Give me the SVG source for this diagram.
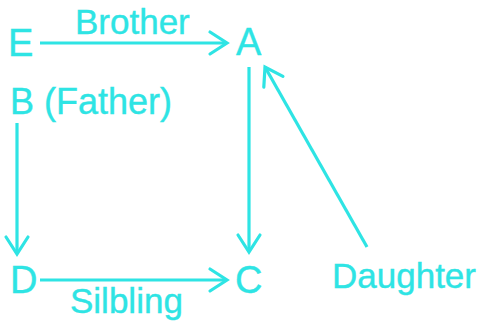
<svg xmlns="http://www.w3.org/2000/svg" width="482" height="327" viewBox="0 0 482 327">
<style>
.lbl{font-family:"Liberation Sans",Arial,sans-serif;fill:#2ee4e4;stroke:#2ee4e4;stroke-width:0.4}
.big{font-size:38px}
.mid{font-size:36px}
.sm{font-size:35px}
.edge{stroke:#2ee4e4;stroke-width:3.2;fill:none}
</style>
<defs>
<marker id="arr" markerUnits="userSpaceOnUse" markerWidth="40" markerHeight="40" refX="0" refY="0" viewBox="-20 -20 40 40" orient="auto" overflow="visible">
<path d="M-17,-11 L0,0 L-17,11" fill="none" stroke="#2ee4e4" stroke-width="3.2" stroke-linecap="round"/>
</marker>
</defs>
<rect width="482" height="327" fill="#ffffff"/>
<g id="edges">
<line class="edge" x1="40" y1="43" x2="227" y2="43" marker-end="url(#arr)"/>
<line class="edge" x1="249" y1="67" x2="249" y2="252" marker-end="url(#arr)"/>
<line class="edge" x1="17" y1="123" x2="17" y2="254" marker-end="url(#arr)"/>
<line class="edge" x1="40" y1="280" x2="227" y2="280" marker-end="url(#arr)"/>
<line class="edge" x1="367" y1="247" x2="265" y2="67" marker-end="url(#arr)"/>
<text class="lbl sm" x="75" y="34">Brother</text>
<text class="lbl sm" x="70" y="313">Silbling</text>
<text class="lbl sm" x="332" y="288">Daughter</text>
</g>
<g id="node-E"><text class="lbl big" x="8" y="56">E</text></g>
<g id="node-A"><text class="lbl big" x="236" y="55">A</text></g>
<g id="node-B"><text class="lbl mid" x="10" y="114">B (Father)</text></g>
<g id="node-D"><text class="lbl big" x="10" y="293">D</text></g>
<g id="node-C"><text class="lbl big" x="235" y="293">C</text></g>
</svg>
